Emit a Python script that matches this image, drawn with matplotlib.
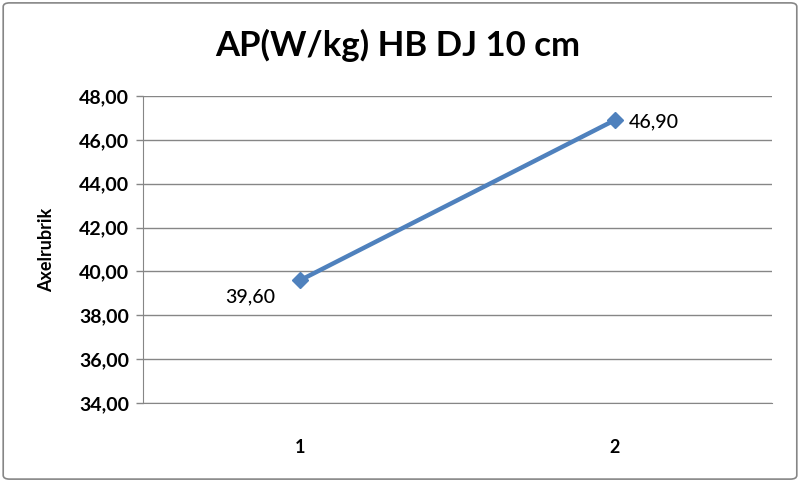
import matplotlib.pyplot as plt
from matplotlib.patches import FancyBboxPatch

plt.rcParams['font.family'] = ['Lato', 'DejaVu Sans']

categories = ['1', '2']
values = [39.60, 46.90]
yticks = [34, 36, 38, 40, 42, 44, 46, 48]

blue = '#4F81BD'
grey = '#868686'

fig = plt.figure(figsize=(8, 4.82), dpi=100)
ax = fig.add_axes([0.17875, 0.1639, 0.78625, 0.6369])

x = list(range(1, len(categories) + 1))
ax.plot(x, values, color=blue, lw=3.2, marker='D', markersize=8, zorder=3)

ax.set_xlim(0.5, len(categories) + 0.5)
ax.set_ylim(34, 48)
ax.set_yticks(yticks)
ax.set_yticklabels([f'{v:.2f}'.replace('.', ',') for v in yticks],
                   fontsize=14, fontweight='bold')
ax.set_xticks(x)
ax.set_xticklabels(categories, fontsize=13, fontweight='bold')
ax.tick_params(axis='x', length=0, pad=26)
ax.tick_params(axis='y', length=5, color=grey, width=1, pad=5)

ax.grid(axis='y', color=grey, lw=1)
ax.set_axisbelow(True)
for side in ['top', 'right']:
    ax.spines[side].set_visible(False)
ax.spines['left'].set_color(grey)
ax.spines['bottom'].set_color(grey)

ax.set_ylabel('Axelrubrik', fontsize=13, fontweight='bold', labelpad=17)

# data labels
lbl = [f'{v:.2f}'.replace('.', ',') for v in values]
ax.annotate(lbl[0], (x[0], values[0]), xytext=(-36, -12), textcoords='offset points',
            ha='center', va='center', fontsize=14, fontweight='medium')
ax.annotate(lbl[1], (x[1], values[1]), xytext=(28, -1), textcoords='offset points',
            ha='center', va='center', fontsize=14, fontweight='medium')

fig.text(0.4975, 0.905, 'AP(W/kg) HB DJ 10 cm', ha='center', va='center',
         fontsize=25, fontweight='bold')

border = FancyBboxPatch((0.004, 0.006), 0.992, 0.988, boxstyle='round,pad=0,rounding_size=0.008',
                        transform=fig.transFigure, fill=False, edgecolor=grey, lw=1.2)
fig.patches.append(border)

fig.savefig('out.png', dpi=100)
